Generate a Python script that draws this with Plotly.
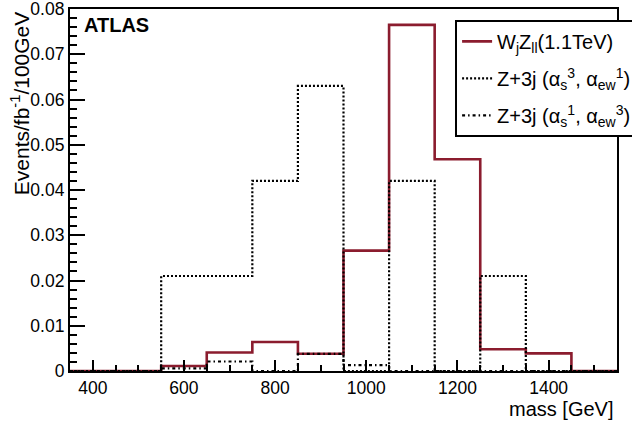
import plotly.graph_objects as go

# Mass bins (lower edges, GeV), 100 GeV wide
bin_low = [350, 450, 550, 650, 750, 850, 950, 1050, 1150, 1250, 1350, 1450]
bin_width = 100

# Events / fb^-1 / 100 GeV
wz_signal = [0, 0, 0.0011, 0.0041, 0.0064, 0.0038, 0.0266, 0.0765, 0.0468, 0.0048, 0.0039, 0]
z3j_qcd = [0, 0, 0.021, 0.021, 0.042, 0.063, 0, 0.042, 0, 0.021, 0, 0]
z3j_ew = [0, 0, 0.0006, 0.0021, 0, 0.0038, 0.0013, 0, 0, 0, 0, 0]

x_ticks = [400, 600, 800, 1000, 1200, 1400]
y_ticks = [0, 0.01, 0.02, 0.03, 0.04, 0.05, 0.06, 0.07, 0.08]
y_tick_text = ["0", "0.01", "0.02", "0.03", "0.04", "0.05", "0.06", "0.07", "0.08"]

edges = bin_low + [bin_low[-1] + bin_width]


def step(vals):
    return vals + [vals[-1]]


FONT = "Liberation Sans, Arial, sans-serif"
RED = "#8b1c2e"

fig = go.Figure()
fig.add_trace(go.Scatter(
    x=edges, y=step(wz_signal), mode="lines", line_shape="hv",
    line=dict(color=RED, width=2.6),
    name="W<sub>j</sub>Z<sub>ll</sub>(1.1TeV)", legendgroup="a",
))
fig.add_trace(go.Scatter(
    x=edges, y=step(z3j_qcd), mode="lines", line_shape="hv",
    line=dict(color="black", width=2.2, dash="2px,2px"),
    name="Z+3j (α<sub>s</sub><sup>3</sup>, α<sub>ew</sub><sup>1</sup>)", legendgroup="b",
))
fig.add_trace(go.Scatter(
    x=edges, y=step(z3j_ew), mode="lines", line_shape="hv",
    line=dict(color="black", width=2.2, dash="3px,3px,1.5px,3px"),
    name="Z+3j (α<sub>s</sub><sup>1</sup>, α<sub>ew</sub><sup>3</sup>)", legendgroup="c",
))

axis_common = dict(
    showgrid=False, zeroline=False, showline=True, linecolor="black",
    linewidth=2.2, mirror=True, ticks="inside", tickcolor="black",
    tickwidth=2, tickfont=dict(family=FONT, size=17.5, color="black"),
    ticklabeloverflow="allow",
)

fig.update_xaxes(
    range=[350, 1550], tickvals=x_ticks, ticklen=11,
    minor=dict(dtick=50, tick0=0, ticks="inside", ticklen=6, tickwidth=1.5, tickcolor="black"),
    **axis_common,
)
fig.update_yaxes(
    range=[0, 0.08001], tickvals=y_ticks, ticktext=y_tick_text, ticklen=15,
    minor=dict(dtick=0.002, tick0=0, ticks="inside", ticklen=7, tickwidth=1.5, tickcolor="black"),
    **axis_common,
)

fig.add_annotation(
    text="Events/fb<sup>-1</sup>/100GeV", textangle=-90,
    xref="paper", yref="paper", x=-0.091, y=1.0,
    xanchor="center", yanchor="top", showarrow=False,
    font=dict(family=FONT, size=21, color="black"),
)
fig.add_annotation(
    text="mass [GeV]", xref="paper", yref="paper", x=0.9963, y=-0.104,
    xanchor="right", yanchor="middle", showarrow=False,
    font=dict(family=FONT, size=20, color="black"),
)
fig.add_annotation(
    text="<b>ATLAS</b>", xref="paper", yref="paper", x=0.022, y=0.955,
    xanchor="left", yanchor="middle", showarrow=False,
    font=dict(family=FONT, size=20, color="black"),
)

fig.update_layout(
    width=632, height=421,
    margin=dict(l=70, r=15, t=9, b=50, autoexpand=False),
    paper_bgcolor="white", plot_bgcolor="white",
    showlegend=True,
    legend=dict(
        x=0.704, y=0.97, xanchor="left", yanchor="top",
        bgcolor="white", bordercolor="black", borderwidth=2,
        font=dict(family=FONT, size=20, color="black"),
        tracegroupgap=8, traceorder="grouped", itemwidth=30,
    ),
)

fig.write_html("out.html")
